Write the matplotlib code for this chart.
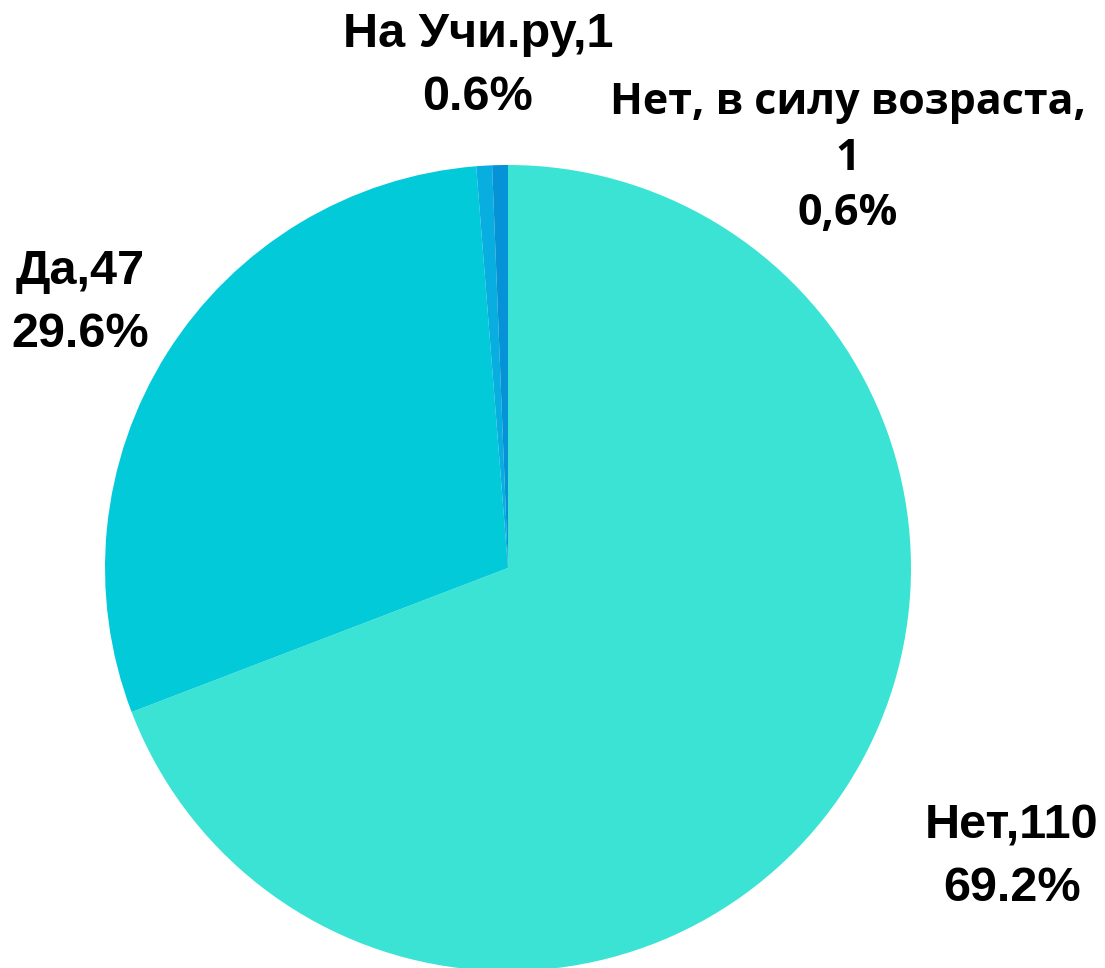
import matplotlib.pyplot as plt

plt.rcParams['font.family'] = ['Liberation Sans', 'DejaVu Sans']

labels = ['Нет', 'Да', 'На Учи.ру', 'Нет, в силу возраста,\n']
counts = [110, 47, 1, 1]
pct_text = ['69.2%', '29.6%', '0.6%', '0,6%']
colors = ['#3BE3D4', '#03CAD9', '#07AEDF', '#0592D6']

fig = plt.figure(figsize=(11.05, 9.68), dpi=100)
ax = fig.add_axes([0, 0, 1, 1])

ax.pie(counts, colors=colors, startangle=90, counterclock=False,
       radius=403, center=(508, 400), frame=True,
       wedgeprops=dict(linewidth=0))
ax.set_xlim(0, 1105)
ax.set_ylim(0, 968)
ax.set_aspect('equal')
ax.axis('off')

# label placement (x, y of text center, line spacing, font, size)
spots = [(1012, 111, 1.5, 'Liberation Sans', 35),
         (80, 665, 1.5, 'Liberation Sans', 35),
         (478, 902, 1.5, 'Liberation Sans', 35),
         (848, 810, 1.38, 'Open Sans', 31)]
for lab, n, p, (x, y, ls, fam, fs) in zip(labels, counts, pct_text, spots):
    if lab.endswith('\n'):
        txt = f'{lab}{n}\n{p}'
    else:
        txt = f'{lab},{n}\n{p}'
    ax.text(x, y, txt, ha='center', va='center', fontsize=fs,
            family=[fam, 'DejaVu Sans'], fontweight='bold',
            linespacing=ls, color='black')

fig.savefig('out.png', dpi=100)
